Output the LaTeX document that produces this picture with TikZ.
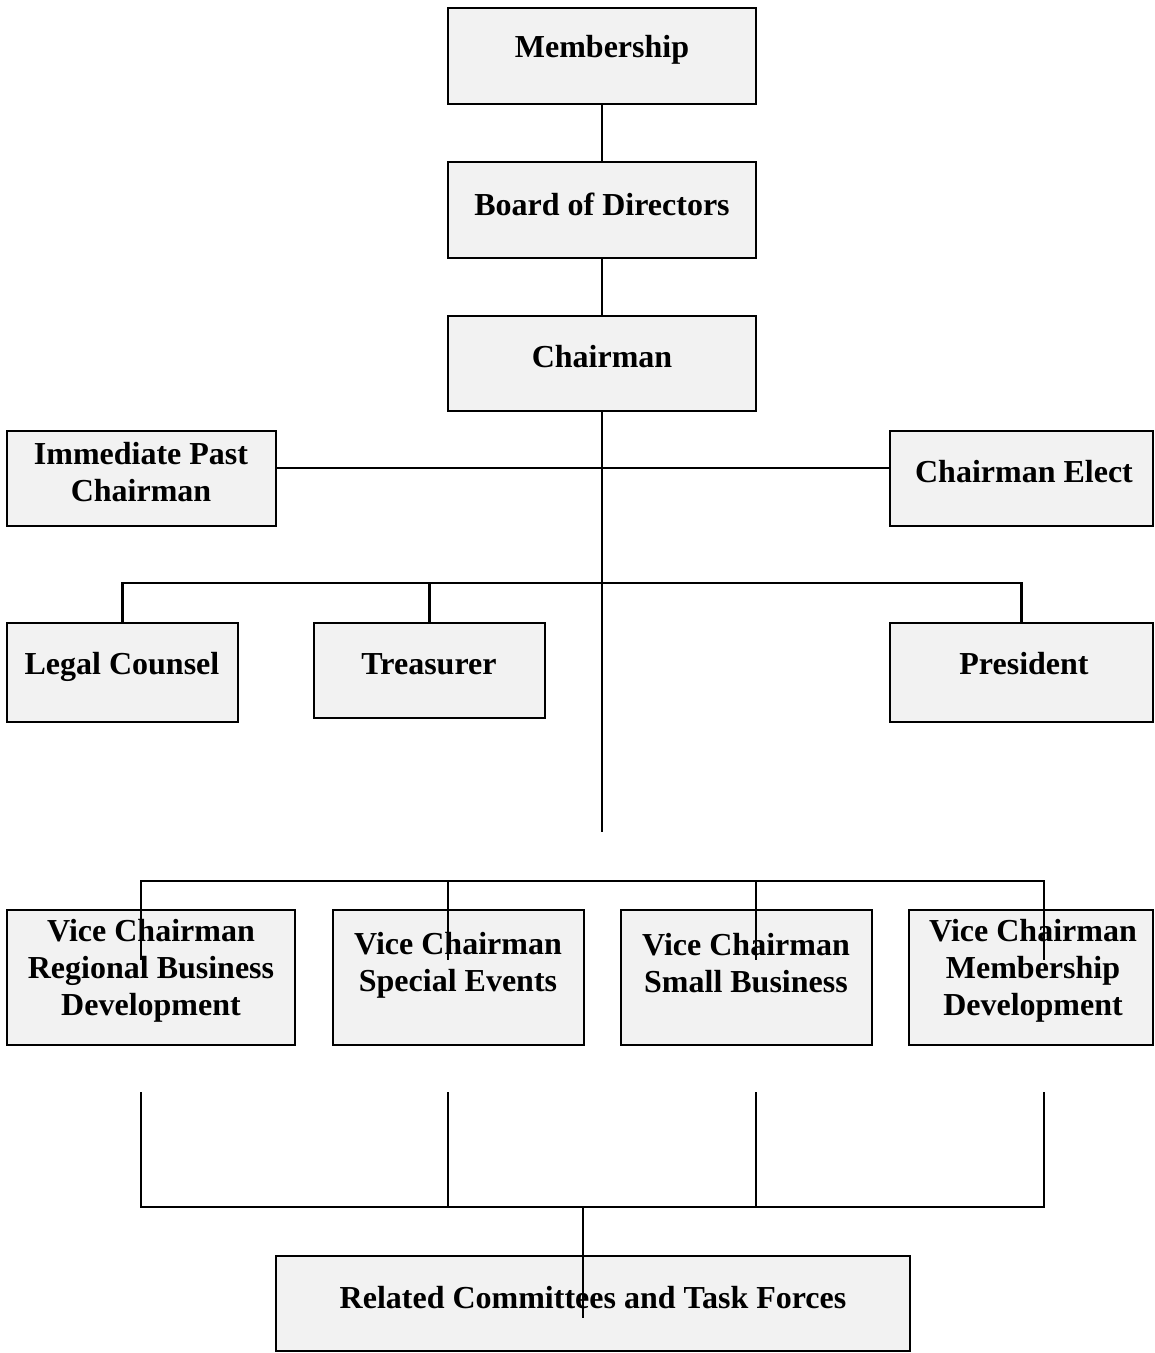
\documentclass[tikz,border=0pt]{standalone}
\usepackage{fontspec}
\setmainfont{Liberation Serif}
\begin{document}
\begin{tikzpicture}[x=1pt,y=-1pt,
  box/.style={draw=black,line width=2.3pt,fill=boxgray,inner sep=0pt},
  lbl/.style={font=\fontsize{32}{37}\selectfont\bfseries,align=center,inner sep=0pt},
  conn/.style={draw=black,line width=2.3pt}]
\definecolor{boxgray}{HTML}{F2F2F2}
\useasboundingbox (0,0) rectangle (1155,1353);
% boxes
\node[box,minimum width=308,minimum height=96] (mem) at (602,56) {};
\node[box,minimum width=308,minimum height=96] (bod) at (602,210) {};
\node[box,minimum width=308,minimum height=95] (chair) at (602,363.5) {};
\node[box,minimum width=269,minimum height=95] (ipc) at (141.5,478.5) {};
\node[box,minimum width=263,minimum height=95] (ce) at (1021.5,478.5) {};
\node[box,minimum width=231,minimum height=99] (lc) at (122.5,672.5) {};
\node[box,minimum width=231,minimum height=95] (tr) at (429.5,670.5) {};
\node[box,minimum width=263,minimum height=99] (pres) at (1021.5,672.5) {};
\node[box,minimum width=288,minimum height=135] (vc1) at (151,977.5) {};
\node[box,minimum width=251,minimum height=135] (vc2) at (458.5,977.5) {};
\node[box,minimum width=251,minimum height=135] (vc3) at (746.5,977.5) {};
\node[box,minimum width=244,minimum height=135] (vc4) at (1031,977.5) {};
\node[box,minimum width=634,minimum height=95] (rel) at (593,1303.5) {};
% labels
\node[lbl] (memt) at (602,50) {Membership};
\node[lbl] (bodt) at (602,204) {Board of Directors};
\node[lbl] (chairt) at (602,357) {Chairman};
\node[lbl] (ipct) at (141,472) {Immediate Past\\Chairman};
\node[lbl] (cet) at (1024,472) {Chairman Elect};
\node[lbl] (lct) at (122,667) {Legal Counsel};
\node[lbl] (trt) at (429,664) {Treasurer};
\node[lbl] (prest) at (1024,664) {President};
\node[lbl] (vc1t) at (151,971) {Vice Chairman\\Regional Business\\Development};
\node[lbl] (vc2t) at (458,965) {Vice Chairman\\Special Events};
\node[lbl] (vc3t) at (746,963) {Vice Chairman\\Small Business};
\node[lbl] (vc4t) at (1033,971) {Vice Chairman\\Membership\\Development};
\node[lbl] (relt) at (593,1298) {Related Committees and Task Forces};
% coordinates
\coordinate (trunkend) at (602,832);
\coordinate (h1) at (602,468);
\coordinate (h2) at (602,583);
\coordinate (relend) at (583,1318);
% connectors
\draw[conn] (mem.south) -- (bod.north);
\draw[conn] (bod.south) -- (chair.north);
\draw[conn] (chair.south) -- (trunkend);
\draw[conn] (ipc.east |- h1) -- (ce.west |- h1);
\draw[conn] (lc.north) -- (lc.north |- h2) -- (pres.north |- h2) -- (pres.north);
\draw[conn] (tr.north |- h2) -- (tr.north);
\draw[conn] (141,960) coordinate (a1) -- (141,881) coordinate (a2) -- (1044,881) coordinate (a3) -- (1044,960) coordinate (a4);
\draw[conn] (448,881) coordinate (a5) -- (448,960) coordinate (a6);
\draw[conn] (756,881) coordinate (a7) -- (756,960) coordinate (a8);
\draw[conn] (141,1092) coordinate (b1) -- (141,1207) coordinate (b2) -- (1044,1207) coordinate (b3) -- (1044,1092) coordinate (b4);
\draw[conn] (448,1092) coordinate (b5) -- (448,1207) coordinate (b6);
\draw[conn] (756,1092) coordinate (b7) -- (756,1207) coordinate (b8);
\draw[conn] (583,1207) coordinate (b9) -- (relend);
\end{tikzpicture}
\end{document}
